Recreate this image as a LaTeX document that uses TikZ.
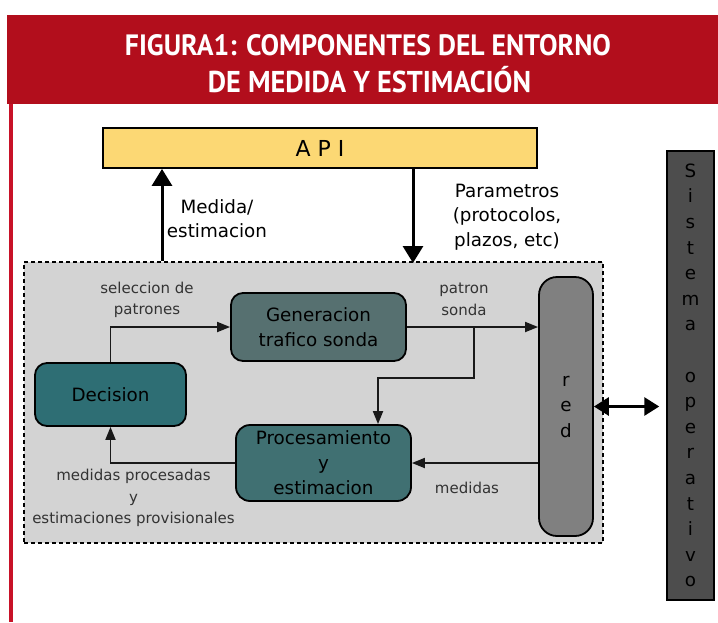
\documentclass[tikz,border=0pt]{standalone}
\usepackage{fontspec}
\setmainfont{DejaVu Sans}
\newfontfamily\titlefont{PT Sans}
\usetikzlibrary{arrows.meta}
\definecolor{hdr}{RGB}{178,14,28}
\definecolor{redline}{RGB}{200,18,40}
\definecolor{apicol}{RGB}{252,216,116}
\definecolor{panelcol}{RGB}{211,211,211}
\definecolor{deccol}{RGB}{46,110,116}
\definecolor{gencol}{RGB}{86,112,112}
\definecolor{proccol}{RGB}{64,112,114}
\definecolor{redcol}{RGB}{128,128,128}
\definecolor{socol}{RGB}{77,77,77}
\definecolor{lblgray}{RGB}{51,51,51}
\tikzset{
  boxn/.style={draw=black, line width=1.8pt, inner sep=0pt, align=center,
    font=\fontsize{18.3}{25}\selectfont, text=black},
  conn/.style={draw=black!90, line width=1.8pt, -{Triangle[length=13pt,width=10pt]}},
  bigarrow/.style={draw=black, line width=3pt, -{Triangle[length=17pt,width=20pt]}},
  dblarrow/.style={draw=black, line width=3pt, {Triangle[length=15pt,width=18pt]}-{Triangle[length=15pt,width=18pt]}},
  biglbl/.style={align=center, inner sep=0pt, font=\fontsize{18.3}{24.5}\selectfont, text=black},
  smalllbl/.style={align=center, inner sep=0pt, font=\fontsize{15}{21.5}\selectfont, text=lblgray},
  titlel/.style={inner sep=0pt, anchor=base, text=white}
}
\begin{document}
\begin{tikzpicture}[x=1pt,y=-1pt]
\useasboundingbox (0,0) rectangle (718,622);
\fill[white] (0,0) rectangle (718,622);
% header
\fill[hdr] (7,15) rectangle (718,104);
\fill[redline] (9,104) rectangle (12.5,622);
\node[titlel] (t1) at (368,55) {\resizebox{486pt}{21pt}{\titlefont\bfseries FIGURA1: COMPONENTES DEL ENTORNO}};
\node[titlel] (t2) at (369.5,92) {\resizebox{323pt}{21.5pt}{\titlefont\bfseries DE MEDIDA Y ESTIMACI\smash{Ó}N}};
% panel
\node[draw=black, line width=2pt, dash pattern=on 4pt off 3pt, fill=panelcol,
  minimum width=579pt, minimum height=281pt, inner sep=0pt] (panel) at (313.5,402.5) {};
% API
\node[boxn, fill=apicol, minimum width=434pt, minimum height=40pt,
  font=\fontsize{22}{26}\selectfont] (api) at (320,148) {A\ P\ I};
% boxes
\node[boxn, fill=deccol, rounded corners=12pt, minimum width=151pt, minimum height=63pt] (dec) at (110.5,394.5) {Decision};
\node[boxn, fill=gencol, rounded corners=12pt, minimum width=175pt, minimum height=68pt] (gen) at (318.5,327) {Generacion\\trafico sonda};
\node[boxn, fill=proccol, rounded corners=14pt, minimum width=175pt, minimum height=76pt] (proc) at (323.5,463) {Procesamiento\\y\\estimacion};
\node[boxn, fill=redcol, rounded corners=18pt, minimum width=54pt, minimum height=259pt, font=\fontsize{18.3}{25.5}\selectfont] (red) at (566,406.5) {r\\e\\d};
\node[boxn, fill=socol, minimum width=47pt, minimum height=449pt, line width=1.5pt, font=\fontsize{18.3}{25.6}\selectfont] (so) at (690.5,375.5) {S\\i\\s\\t\\e\\m\\a\\~\\o\\p\\e\\r\\a\\t\\i\\v\\o};
% API arrows
\coordinate (mx) at (162,0);
\coordinate (px) at (413,0);
\draw[bigarrow] (panel.north -| mx) -- (api.south -| mx);
\draw[bigarrow] (api.south -| px) -- ([yshift=-2pt]panel.north -| px);
\node[biglbl] (lmed) at (217,218.5) {Medida/\\estimacion};
\node[biglbl] (lpar) at (507,217) {Parametros\\(protocolos,\\plazos, etc)};
% internal connectors
\draw[conn] (dec.north) |- (gen.west);
\draw[conn] (gen.east) -- (gen.east -| red.west);
\coordinate (br) at ([xshift=67pt]gen.east);
\coordinate (by) at (0,378);
\coordinate (pt) at ([xshift=54.5pt]proc.north);
\draw[conn] (br) -- (br |- by) -| (pt);
\draw[conn] (red.west |- proc.east) -- (proc.east);
\draw[conn] (proc.west) -| (dec.south);
\draw[dblarrow] (red.east) -- ([xshift=-7pt]red.east -| so.west);
% small labels
\node[smalllbl] (lsel) at (147,300) {seleccion de\\patrones};
\node[smalllbl] (lpat) at (464,299.5) {patron\\sonda};
\node[smalllbl, anchor=base] (lmeds) at (467,493) {medidas};
\node[smalllbl] (lproc) at (133.5,498) {medidas procesadas\\y\\estimaciones provisionales};
\end{tikzpicture}
\end{document}
